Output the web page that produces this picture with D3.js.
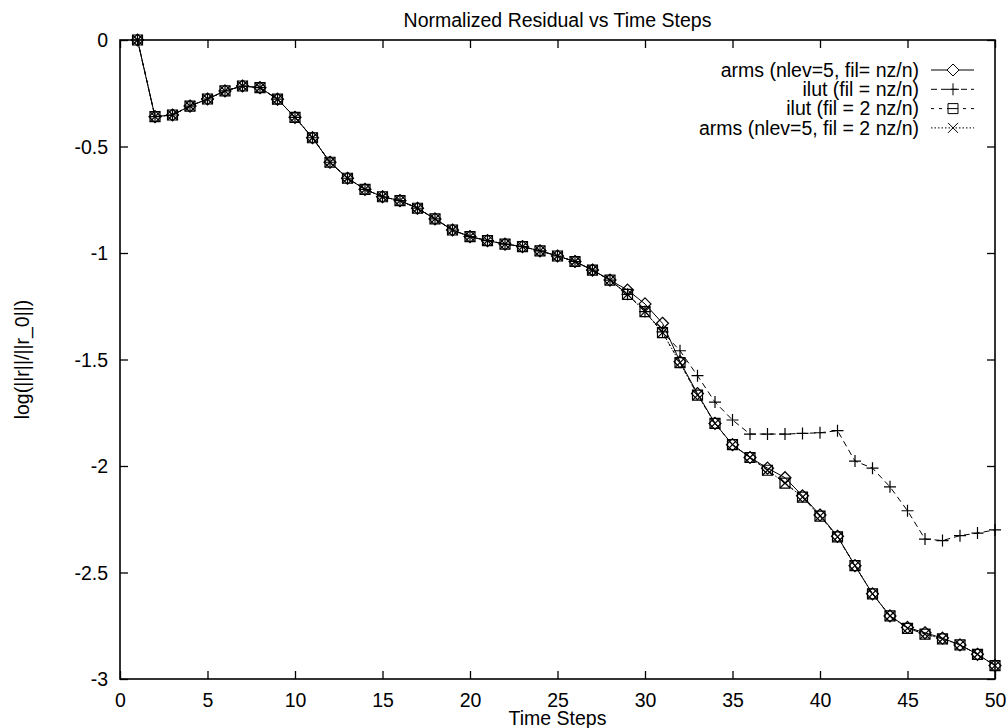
<!DOCTYPE html>
<html>
<head>
<meta charset="utf-8">
<script src="https://cdn.jsdelivr.net/npm/d3@7"></script>
<style>
  html, body { margin: 0; padding: 0; background: #fff; }
  svg { display: block; font-family: "Liberation Sans", Arial, Helvetica, sans-serif; }
</style>
</head>
<body>
<svg id="chart" width="1008" height="728"></svg>
<script>
// ---- data ----
const steps = [1,2,3,4,5,6,7,8,9,10,11,12,13,14,15,16,17,18,19,20,21,22,23,24,25,
               26,27,28,29,30,31,32,33,34,35,36,37,38,39,40,41,42,43,44,45,46,47,48,49,50];

const armsFil1 = [0,-0.36,-0.352,-0.31,-0.277,-0.239,-0.216,-0.224,-0.278,-0.363,
  -0.459,-0.574,-0.649,-0.701,-0.736,-0.754,-0.79,-0.84,-0.892,-0.923,
  -0.942,-0.958,-0.97,-0.99,-1.014,-1.04,-1.08,-1.127,-1.174,-1.239,
  -1.33,-1.51,-1.66,-1.80,-1.90,-1.96,-2.01,-2.055,-2.14,-2.23,
  -2.33,-2.468,-2.60,-2.704,-2.758,-2.783,-2.808,-2.84,-2.884,-2.937];

const ilutFil1 = [0,-0.36,-0.352,-0.31,-0.277,-0.239,-0.216,-0.224,-0.278,-0.363,
  -0.459,-0.574,-0.649,-0.701,-0.736,-0.754,-0.79,-0.84,-0.892,-0.923,
  -0.942,-0.958,-0.97,-0.99,-1.014,-1.04,-1.08,-1.127,-1.194,-1.275,
  -1.37,-1.459,-1.576,-1.70,-1.784,-1.85,-1.85,-1.85,-1.847,-1.844,
  -1.834,-1.977,-2.01,-2.098,-2.21,-2.343,-2.35,-2.327,-2.315,-2.30];

const ilutFil2 = [0,-0.36,-0.352,-0.31,-0.277,-0.239,-0.216,-0.224,-0.278,-0.363,
  -0.459,-0.574,-0.649,-0.701,-0.736,-0.754,-0.79,-0.84,-0.892,-0.923,
  -0.942,-0.958,-0.97,-0.99,-1.014,-1.04,-1.08,-1.127,-1.194,-1.275,
  -1.374,-1.515,-1.667,-1.80,-1.90,-1.96,-2.02,-2.08,-2.146,-2.235,
  -2.333,-2.468,-2.60,-2.704,-2.762,-2.789,-2.812,-2.84,-2.884,-2.937];

const armsFil2 = [0,-0.36,-0.352,-0.31,-0.277,-0.239,-0.216,-0.224,-0.278,-0.363,
  -0.459,-0.574,-0.649,-0.701,-0.736,-0.754,-0.79,-0.84,-0.892,-0.923,
  -0.942,-0.958,-0.97,-0.99,-1.014,-1.04,-1.08,-1.127,-1.194,-1.275,
  -1.374,-1.515,-1.667,-1.80,-1.90,-1.96,-2.02,-2.08,-2.146,-2.235,
  -2.333,-2.468,-2.60,-2.704,-2.762,-2.789,-2.812,-2.84,-2.884,-2.937];

const seriesNames = ["arms (nlev=5, fil= nz/n)", "ilut (fil = nz/n)",
                     "ilut (fil = 2 nz/n)", "arms (nlev=5, fil = 2 nz/n)"];
const seriesValues = [armsFil1, ilutFil1, ilutFil2, armsFil2];
const seriesMarkers = ["diamond", "plus", "square", "cross"];
const seriesDash = [null, "6,4", "3,5", "1.5,2"];

const xTicks = [0,5,10,15,20,25,30,35,40,45,50];
const yTicks = [0,-0.5,-1,-1.5,-2,-2.5,-3];

const titleText = "Normalized Residual vs Time Steps";
const xLabelText = "Time Steps";
const yLabelText = "log(||r||/||r_0||)";

// ---- layout ----
const L = 120, R = 995, T = 40, B = 679;
const svg = d3.select("#chart");
const x = d3.scaleLinear().domain([0, 50]).range([L, R]);
const y = d3.scaleLinear().domain([-3, 0]).range([B, T]);
const fs = 19.5;

// markers
function markerPath(type, cx, cy) {
  const p = d3.path();
  if (type === "diamond") {
    const h = 6;
    p.moveTo(cx, cy - h); p.lineTo(cx + h, cy); p.lineTo(cx, cy + h); p.lineTo(cx - h, cy); p.closePath();
  } else if (type === "plus") {
    const h = 6;
    p.moveTo(cx - h, cy); p.lineTo(cx + h, cy); p.moveTo(cx, cy - h); p.lineTo(cx, cy + h);
  } else if (type === "square") {
    const h = 5;
    p.rect(cx - h, cy - h, 2 * h, 2 * h);
  } else if (type === "cross") {
    const h = 5;
    p.moveTo(cx - h, cy - h); p.lineTo(cx + h, cy + h); p.moveTo(cx - h, cy + h); p.lineTo(cx + h, cy - h);
  }
  return p.toString();
}

// axes (ticks inward, mirrored)
const gx = svg.append("g").attr("transform", `translate(0,${B})`)
  .call(d3.axisBottom(x).tickValues(xTicks).tickSize(-8).tickPadding(14).tickFormat(d => String(d)));
const gxTop = svg.append("g").attr("transform", `translate(0,${T})`)
  .call(d3.axisTop(x).tickValues(xTicks).tickSize(-8).tickFormat(""));
const gy = svg.append("g").attr("transform", `translate(${L},0)`)
  .call(d3.axisLeft(y).tickValues(yTicks).tickSize(-8).tickPadding(12).tickFormat(d => String(d)));
const gyRight = svg.append("g").attr("transform", `translate(${R},0)`)
  .call(d3.axisRight(y).tickValues(yTicks).tickSize(-8).tickFormat(""));

[gx, gxTop, gy, gyRight].forEach(g => {
  g.select(".domain").remove();
  g.selectAll(".tick line").attr("stroke", "#000").attr("stroke-width", 1.3);
  g.selectAll(".tick text").attr("fill", "#000").attr("font-size", fs)
    .attr("font-family", "Liberation Sans, Arial, sans-serif");
});
gx.selectAll(".tick text").attr("dy", "0.71em");
gy.selectAll(".tick text").attr("dy", "0.35em");

// frame
svg.append("rect").attr("x", L).attr("y", T).attr("width", R - L).attr("height", B - T)
  .attr("fill", "none").attr("stroke", "#000").attr("stroke-width", 1.6);

// series
const line = d3.line().x((d, i) => x(steps[i])).y(d => y(d));
seriesValues.forEach((vals, si) => {
  const g = svg.append("g");
  g.append("path").attr("d", line(vals)).attr("fill", "none").attr("stroke", "#000")
    .attr("stroke-width", 1).attr("stroke-dasharray", seriesDash[si]);
  g.selectAll("path.m").data(vals).join("path").attr("class", "m")
    .attr("d", (d, i) => markerPath(seriesMarkers[si], x(steps[i]), y(d)))
    .attr("fill", "none").attr("stroke", "#000").attr("stroke-width", 1.2);
});

// legend
const legX = 919, legLine0 = 931, legLine1 = 974, legY0 = 70, legDy = 19.3;
seriesNames.forEach((name, si) => {
  const ly = legY0 + si * legDy;
  svg.append("text").attr("x", legX).attr("y", ly).attr("dy", "0.35em")
    .attr("text-anchor", "end").attr("font-size", fs).attr("fill", "#000").text(name);
  svg.append("line").attr("x1", legLine0).attr("x2", legLine1).attr("y1", ly).attr("y2", ly)
    .attr("stroke", "#000").attr("stroke-width", 1).attr("stroke-dasharray", seriesDash[si]);
  const mx = (legLine0 + legLine1) / 2 + 0.5;
  svg.append("path").attr("d", markerPath(seriesMarkers[si], mx, ly))
    .attr("fill", si === 0 || si === 2 ? "#fff" : "none").attr("stroke", "#000").attr("stroke-width", 1);
  if (si === 2) {
    svg.append("line").attr("x1", mx - 5).attr("x2", mx + 5).attr("y1", ly).attr("y2", ly)
      .attr("stroke", "#000").attr("stroke-width", 1);
  }
});

// title and labels
svg.append("text").attr("x", (L + R) / 2).attr("y", 27).attr("text-anchor", "middle")
  .attr("font-size", fs).attr("fill", "#000").text(titleText);
svg.append("text").attr("x", (L + R) / 2).attr("y", 725).attr("text-anchor", "middle")
  .attr("font-size", fs).attr("fill", "#000").text(xLabelText);
svg.append("text").attr("transform", `translate(29,${(T + B) / 2}) rotate(-90)`)
  .attr("text-anchor", "middle").attr("font-size", fs).attr("fill", "#000").text(yLabelText);
</script>
</body>
</html>
